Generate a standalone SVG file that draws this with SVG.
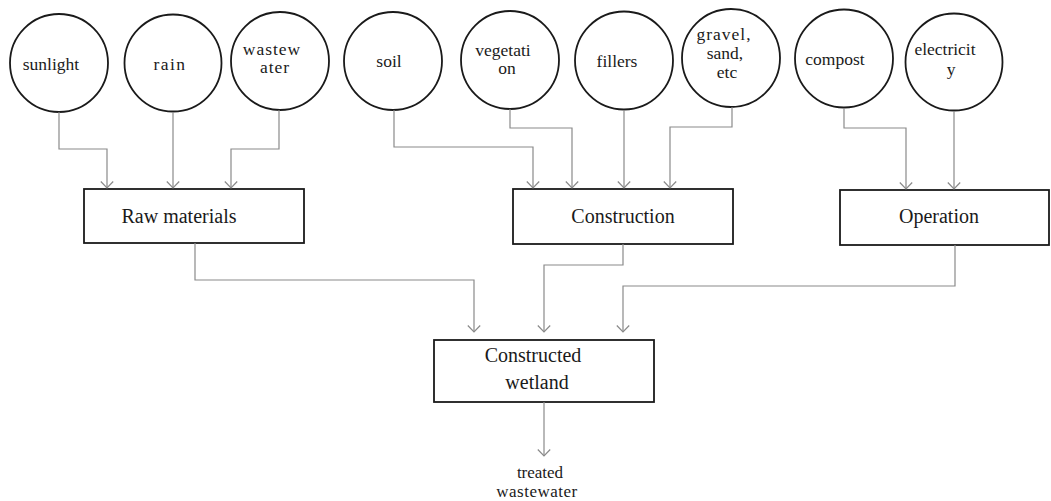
<svg xmlns="http://www.w3.org/2000/svg" width="1051" height="501" viewBox="0 0 1051 501">
  <defs>
    <style>
      .node circle, .node rect { fill: #fff; stroke: #1a1a1a; stroke-width: 1.8; }
      .lbl { font-family: "Liberation Serif", "DejaVu Serif", serif; fill: #1a1a1a; text-anchor: middle; }
      .in { font-size: 17.5px; }
      .box { font-size: 20px; }
      .out { font-size: 17px; }
      .conn path { fill: none; stroke: #8a8a8a; stroke-width: 1.2; marker-end: url(#arrow); }
    </style>
    <!-- open chevron arrowhead, tip at the path end -->
    <marker id="arrow" viewBox="0 0 8 14" refX="7" refY="7" markerWidth="8" markerHeight="14" markerUnits="userSpaceOnUse" orient="auto">
      <path d="M0.5,0.8 L7,7 L0.5,13.2" fill="none" stroke="#8a8a8a" stroke-width="1.2"/>
    </marker>
  </defs>
  <rect width="1051" height="501" fill="#fff"/>

  <!-- input resources -->
  <g id="sunlight" class="node"><circle cx="59" cy="63" r="49"/><text class="lbl in" x="51" y="70">sunlight</text></g>
  <g id="rain" class="node"><circle cx="173" cy="63" r="48.5"/><text class="lbl in" x="170" y="70" letter-spacing="1.5">rain</text></g>
  <g id="wastewater" class="node"><circle cx="280" cy="61" r="49"/><text class="lbl in" x="272" y="55" letter-spacing="1">wastew</text><text class="lbl in" x="275" y="73" letter-spacing="1">ater</text></g>
  <g id="soil" class="node"><circle cx="393" cy="61" r="49"/><text class="lbl in" x="389" y="67">soil</text></g>
  <g id="vegetation" class="node"><circle cx="510" cy="60" r="49"/><text class="lbl in" x="503" y="56">vegetati</text><text class="lbl in" x="507" y="74">on</text></g>
  <g id="gravel" class="node"><circle cx="731" cy="58" r="49"/><text class="lbl in" x="724" y="40" letter-spacing="1">gravel,</text><text class="lbl in" x="725" y="59">sand,</text><text class="lbl in" x="727" y="78">etc</text></g>
  <g id="fillers" class="node"><circle cx="624" cy="60.5" r="49"/><text class="lbl in" x="617" y="67">fillers</text></g>
  <g id="compost" class="node"><circle cx="844" cy="58.5" r="49"/><text class="lbl in" x="835" y="65">compost</text></g>
  <g id="electricity" class="node"><circle cx="954" cy="62" r="48.5"/><text class="lbl in" x="945" y="55">electricit</text><text class="lbl in" x="951" y="75">y</text></g>

  <!-- stages -->
  <g id="raw-materials" class="node"><rect x="84" y="189" width="220" height="54"/><text class="lbl box" x="179" y="223">Raw materials</text></g>
  <g id="construction" class="node"><rect x="513" y="189" width="220" height="55"/><text class="lbl box" x="623" y="223">Construction</text></g>
  <g id="operation" class="node"><rect x="840" y="190" width="209" height="55"/><text class="lbl box" x="939" y="223">Operation</text></g>
  <g id="constructed-wetland" class="node"><rect x="434" y="340" width="220" height="62"/><text class="lbl box" x="533" y="362">Constructed</text><text class="lbl box" x="537" y="389">wetland</text></g>
  <g id="treated-wastewater" class="node"><text class="lbl out" x="540" y="478">treated</text><text class="lbl out" x="537" y="497" letter-spacing="0.5">wastewater</text></g>

  <!-- connectors -->
  <g id="connectors" class="conn">
    <path d="M59,112 V149 H107 V188"/>
    <path d="M173,112 V188"/>
    <path d="M279,110 V149 H231 V188"/>
    <path d="M394,110 V147 H533 V188"/>
    <path d="M510,109 V128 H572 V188"/>
    <path d="M624,110 V188"/>
    <path d="M732,107 V127 H670 V188"/>
    <path d="M844,108 V128 H906 V189"/>
    <path d="M954,111 V189"/>
    <path d="M195,243 V280 H474 V332"/>
    <path d="M623,244 V265 H544 V332"/>
    <path d="M955,245 V286 H623 V332"/>
    <path d="M544,402 V456"/>
  </g>
</svg>
